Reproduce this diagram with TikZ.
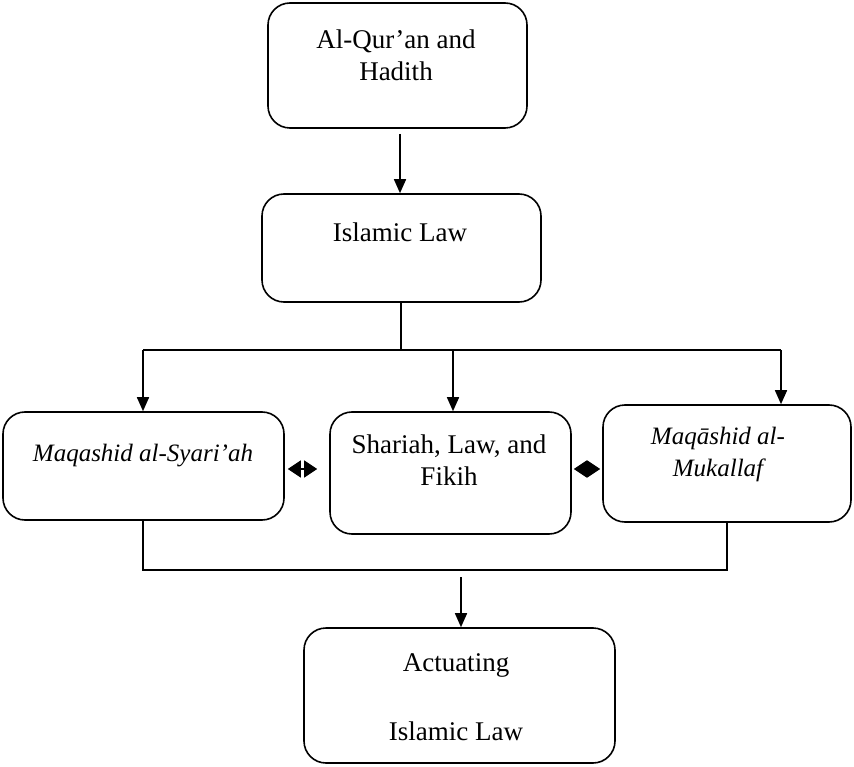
\documentclass[tikz,border=0pt]{standalone}
\usepackage{fontspec}
\setmainfont{Liberation Serif}
\usetikzlibrary{arrows.meta,calc}
\begin{document}
\begin{tikzpicture}[x=1pt,y=-1pt,
  box/.style={draw,line width=1.6pt,rounded corners=22pt,inner sep=0pt},
  txt/.style={font=\fontsize{27}{32}\selectfont,align=center,inner sep=0pt},
  itxt/.style={txt,font=\fontsize{25}{32}\selectfont\itshape},
  conn/.style={line width=1.6pt},
  arr/.style={conn,-{Triangle[length=14pt,width=12pt]}},
  half/.style={line width=1.2pt,-{Triangle[length=13pt,width=17pt]}}]
\useasboundingbox (0,0) rectangle (854,767);
% boxes
\node[box,minimum width=259pt,minimum height=125pt] (top) at (397.5,65.5) {};
\node[box,minimum width=279pt,minimum height=108pt] (isl) at (401.5,248) {};
\node[box,minimum width=281pt,minimum height=108pt] (ms) at (143.5,466) {};
\node[box,minimum width=241pt,minimum height=122pt] (sh) at (450.5,473) {};
\node[box,minimum width=248pt,minimum height=117pt] (mm) at (727,463.5) {};
\node[box,minimum width=311pt,minimum height=135pt] (act) at (459.5,695.5) {};
% texts
\node[txt] (ttop) at (396,55) {Al-Qur'an and\\Hadith};
\node[txt] (tisl) at (400,232) {Islamic Law};
\node[itxt] (tms) at (143,456) {Maqashid al-Syari'ah};
\node[txt] (tsh) at (449,460) {Shariah, Law, and\\Fikih};
\node[itxt] (tmm) at (718,454) {Maq\=ashid al-\\Mukallaf};
\node[txt] (tact1) at (456,665) {Actuating};
\node[txt] (tact2) at (456,731) {Islamic Law};
% connectors
\coordinate (a1) at (400,134);
\draw[arr] (a1) -- (a1 |- isl.north);
\coordinate (j1) at (401,350);
\draw[conn] (isl.south -| j1) -- (j1);
\draw[conn] (143,350) -- (781,350);
\draw[arr] (143,350) -- (ms.north -| 143,0);
\draw[arr] (453,350) -- (sh.north -| 453,0);
\draw[arr] (781,350) -- (mm.north -| 781,0);
\coordinate (j2) at (143,570);
\coordinate (j3) at (727,570);
\draw[conn] (ms.south -| j2) -- (j2) -- (j3) -- (mm.south -| j3);
\coordinate (a2) at (461,577);
\draw[arr] (a2) -- (a2 |- act.north);
% double arrows
\coordinate (d1) at (302.5,469);
\draw[half] (d1) -- ([xshift=3pt]ms.east |- d1);
\draw[half] (d1) -- ([xshift=-12pt]sh.west |- d1);
\coordinate (d2) at (587,469);
\draw[half] (d2) -- ([xshift=2pt]sh.east |- d2);
\draw[half] (d2) -- ([xshift=-2pt]mm.west |- d2);
\end{tikzpicture}
\end{document}
